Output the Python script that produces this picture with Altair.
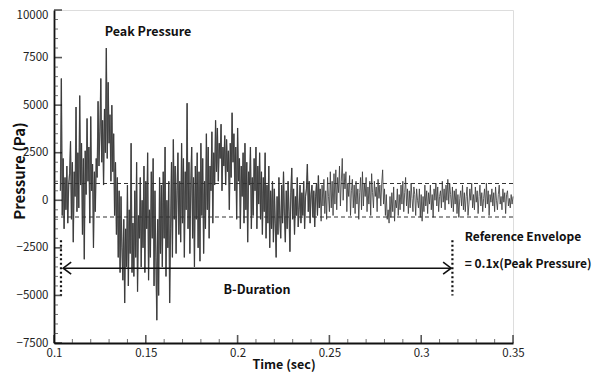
import altair as alt
import pandas as pd

# ---------------- data ----------------
T_START = 0.1035      # first sample (s)
T_STEP = 0.0005       # sample spacing (s)

# pressure samples, in hundreds of Pa (0.005 s per row)
p_hundreds = [
    5, 64, -8, 22, -15, 12, -5, 18, -12, 8,
    14, 31, -10, 20, -22, 15, 2, 49, -6, 25,
    -4, 55, 8, 30, -18, 22, -31, 26, 3, 43,
    10, 28, -12, 44, 5, 19, -25, 15, -6, 22,
    12, 52, 18, 36, 64, 20, 42, 8, 48, 25,
    80, 22, 62, 30, 45, 10, 50, 15, 35, -8,
    20, -18, 12, -30, 5, -38, 2, -25, -42, -10,
    -54, -15, -35, 8, -45, -5, -28, 30, -38, -12,
    -40, 5, -30, 20, -48, -8, -20, 12, -35, 0,
    -25, 18, -38, 10, -15, 25, -42, -5, -30, 15,
    -20, 22, -45, 5, -30, -63, -10, -50, 12, -28,
    8, -35, 15, -20, 28, -40, 0, -25, 10, -54,
    -15, 20, -30, 32, -10, 18, -28, 5, 25, -18,
    10, -22, 30, -12, 22, -30, 15, -5, 51, -15,
    20, -28, 8, 28, -20, 12, -35, 18, -10, 25,
    -25, 15, -32, 30, -8, 22, -28, 10, -15, 35,
    -5, 28, -20, 18, 5, 36, -12, 25, 8, 42,
    15, 38, 10, 30, 22, 40, 5, 28, 18, 34,
    8, 32, 15, 26, -5, 30, 12, 46, 20, 35,
    5, 28, -10, 38, 10, 22, -15, 18, 2, 25,
    -12, 30, -5, 20, -22, 15, 8, 28, -15, 12,
    -8, 22, 5, 28, -15, 18, -2, 25, -10, 15,
    -18, 12, -6, 25, -20, 8, -12, 18, -25, 5,
    -15, 10, -22, 6, -12, -30, 2, -18, 12, -10,
    -20, 8, -12, 15, -8, -22, 5, -15, 10, -6,
    -27, 4, 17, -10, 6, -18, 2, -8, 12, -14,
    -5, 8, -12, 4, -8, 10, -15, 2, 6, 19,
    -6, 10, -12, 3, 8, -9, 5, -14, 2, 9,
    -8, 13, -4, 6, -11, 8, -3, 11, -7, 5,
    -10, 12, 2, -6, 15, -4, 10, -8, 14, -2,
    16, -5, 12, 4, 18, -3, 10, 22, 0, 14,
    6, 15, -6, 9, 2, 13, -8, 5, 11, -4,
    8, -7, 10, -2, 6, -10, 4, 12, -5, 15,
    -3, 9, 2, 12, -6, 7, -2, 10, -8, 14,
    4, -4, 10, 2, 7, -6, 11, 1, 8, -3,
    9, 16, -2, 6, -8, 3, -10, -5, -12, 2,
    -9, 4, -6, 7, -11, 0, -4, 6, -8, 3,
    -5, 8, -2, 10, -6, 4, 12, -3, 6, -7,
    5, -4, 9, 1, -6, 7, 3, -8, 6, 0,
    -4, 6, -9, 3, -11, 2, -6, 8, -3, 5,
    -7, 4, -2, 8, -5, 3, -9, 6, 0, 9,
    -3, 7, -6, 2, 5, -4, 10, -1, 6, -5,
    8, 0, 11, -2, 9, 3, -4, 7, -6, 5,
    -2, 6, -7, 3, -9, 1, 5, -3, 8, -5,
    4, -6, 2, 7, -8, -2, 6, 0, 9, -4,
    3, -5, 7, -1, 5, -7, 2, 8, -3, 4,
    -6, 1, 6, -4, 9, -2, 5, -8, 3, -1,
    6, -3, 4, -6, 7, 0, -5, 3, 8, -2,
    2, -5, 6, -1, 4, -7, 3, 5, -3, 1,
    -4, 3, -2, 2,
]
BUSY_END = 0.245      # the trace is dense/dark up to about here

# reference envelope (+/- 0.1 x peak) and its time span
envelope_levels = [880, -880]
envelope_t = [0.1, 0.35]

# B-duration markers (dotted verticals) and arrow
marker_t = [0.1038, 0.3170]
marker_p = [-2100, -5000]
arrow_p = -3570
arrow_t = [0.1050, 0.3163]

# annotation texts
center_labels = ["Peak Pressure", "B-Duration"]
center_t = [0.1512, 0.2106]
center_p = [8830, -4700]
left_labels = ["Reference Envelope", "= 0.1x(Peak Pressure)"]
left_t = [0.3237, 0.3237]
left_p = [-1950, -3330]

# axes
x_major = [0.1, 0.15, 0.2, 0.25, 0.3, 0.35]
x_minor = [0.11, 0.12, 0.13, 0.14, 0.16, 0.17, 0.18, 0.19, 0.21, 0.22, 0.23,
           0.24, 0.26, 0.27, 0.28, 0.29, 0.31, 0.32, 0.33, 0.34]
y_major = [-7500, -5000, -2500, 0, 2500, 5000, 7500, 10000]
y_minor = [v for v in range(-7000, 10000, 500) if v % 2500 != 0]

# ---------------- tables ----------------
pressure = [v * 100 for v in p_hundreds]
time = [round(T_START + i * T_STEP, 5) for i in range(len(pressure))]
sig = pd.DataFrame({"t": time, "p": pressure})
busy = sig[sig.t <= BUSY_END]
env = pd.DataFrame({"p": envelope_levels, "t0": envelope_t[0], "t1": envelope_t[1]})
mk = pd.DataFrame({"t": marker_t, "p0": marker_p[0], "p1": marker_p[1]})
arr = pd.DataFrame({"t0": [arrow_t[0]], "t1": [arrow_t[1]], "p": [arrow_p]})
heads = pd.DataFrame({"t": arrow_t, "p": [arrow_p, arrow_p], "side": ["L", "R"]})
ctext = pd.DataFrame({"t": center_t, "p": center_p, "label": center_labels})
ltext = pd.DataFrame({"t": left_t, "p": left_p, "label": left_labels})
xmaj = pd.DataFrame({"t": x_major})
xmin = pd.DataFrame({"t": x_minor})
ymaj = pd.DataFrame({"p": y_major})
ymin = pd.DataFrame({"p": y_minor})

W, H = 459, 333
FONT = "Noto Sans CJK KR, Noto Sans, sans-serif"

xs = alt.Scale(domain=[0.1, 0.35], nice=False, zero=False, padding=0)
ys = alt.Scale(domain=[-7500, 10000], nice=False, zero=False, padding=0)

x_axis = alt.Axis(values=x_major, format="~g", ticks=False, grid=False,
                  labelFlush=False,
                  domainColor="#111", domainWidth=1.8,
                  labelFont=FONT, labelFontSize=11.5, labelColor="#222",
                  labelPadding=4, title="Time (sec)", titleFont=FONT,
                  titleFontSize=12.5, titleFontWeight="bold", titleColor="#111",
                  titlePadding=0)
y_axis = alt.Axis(values=y_major, format="d", ticks=False, grid=False,
                  labelFlush=False,
                  domainColor="#111", domainWidth=1.8,
                  labelFont=FONT, labelFontSize=11.5, labelColor="#222",
                  labelPadding=6,
                  labelOffset={"condition": {"test": "datum.value == 10000", "value": 5},
                               "value": 0},
                  title="Pressure (Pa)", titleFont=FONT,
                  titleFontSize=15, titleFontWeight="bold", titleColor="#111",
                  titleAngle=270, titleBaseline="top", titleX=-42, titleY=H / 2 - 6,
                  titleAlign="center")

signal = alt.Chart(sig).mark_line(color="#3a3a3a", strokeWidth=0.9, opacity=0.92).encode(
    x=alt.X("t:Q", scale=xs, axis=x_axis),
    y=alt.Y("p:Q", scale=ys, axis=y_axis),
    order="t:Q")

signal_busy = alt.Chart(busy).mark_line(color="#333333", strokeWidth=1.3, opacity=0.6).encode(
    x=alt.X("t:Q", scale=xs), y=alt.Y("p:Q", scale=ys), order="t:Q")

envelope = alt.Chart(env).mark_rule(color="#333", strokeWidth=1.1, strokeDash=[4, 3]).encode(
    x=alt.X("t0:Q", scale=xs), x2="t1:Q", y=alt.Y("p:Q", scale=ys))

markers = alt.Chart(mk).mark_rule(color="#111", strokeWidth=2.2, strokeDash=[2, 2.5]).encode(
    x=alt.X("t:Q", scale=xs), y=alt.Y("p0:Q", scale=ys), y2="p1:Q")

arrow_line = alt.Chart(arr).mark_rule(color="#111", strokeWidth=1.6).encode(
    x=alt.X("t0:Q", scale=xs), x2="t1:Q", y=alt.Y("p:Q", scale=ys))

left_head = alt.Chart(heads[heads.side == "L"]).mark_point(
    shape="M2,-1.5L0,0L2,1.5", size=64, filled=False, color="#111", strokeWidth=1.6,
    opacity=1).encode(x=alt.X("t:Q", scale=xs), y=alt.Y("p:Q", scale=ys))
right_head = alt.Chart(heads[heads.side == "R"]).mark_point(
    shape="M-2,-1.5L0,0L-2,1.5", size=64, filled=False, color="#111", strokeWidth=1.6,
    opacity=1).encode(x=alt.X("t:Q", scale=xs), y=alt.Y("p:Q", scale=ys))

center_txt = alt.Chart(ctext).mark_text(font=FONT, fontSize=12.5, fontWeight="bold",
                                        color="#111", align="center", baseline="middle").encode(
    x=alt.X("t:Q", scale=xs), y=alt.Y("p:Q", scale=ys), text="label:N")
left_txt = alt.Chart(ltext).mark_text(font=FONT, fontSize=12, fontWeight="bold",
                                      color="#111", align="left", baseline="middle").encode(
    x=alt.X("t:Q", scale=xs), y=alt.Y("p:Q", scale=ys), text="label:N")

xt_major = alt.Chart(xmaj).mark_tick(orient="vertical", size=8, thickness=1.6, color="#111",
                                     yOffset=-4).encode(x=alt.X("t:Q", scale=xs), y=alt.value(H))
xt_minor = alt.Chart(xmin).mark_tick(orient="vertical", size=4, thickness=1, color="#333",
                                     yOffset=-2).encode(x=alt.X("t:Q", scale=xs), y=alt.value(H))
yt_major = alt.Chart(ymaj).mark_tick(orient="horizontal", size=8, thickness=1.6, color="#111",
                                     xOffset=4).encode(y=alt.Y("p:Q", scale=ys), x=alt.value(0))
yt_minor = alt.Chart(ymin).mark_tick(orient="horizontal", size=4, thickness=1, color="#333",
                                     xOffset=2).encode(y=alt.Y("p:Q", scale=ys), x=alt.value(0))

chart = alt.layer(
    signal, signal_busy, envelope, markers, arrow_line, left_head, right_head,
    center_txt, left_txt, xt_major, xt_minor, yt_major, yt_minor
).properties(
    width=W, height=H,
    autosize=alt.AutoSizeParams(type="none"),
    padding={"left": 46, "top": 2, "right": 79, "bottom": 30},
).configure_view(stroke=None).configure(background="white")

chart.save("out.html", embed_options={"renderer": "svg", "actions": False})
